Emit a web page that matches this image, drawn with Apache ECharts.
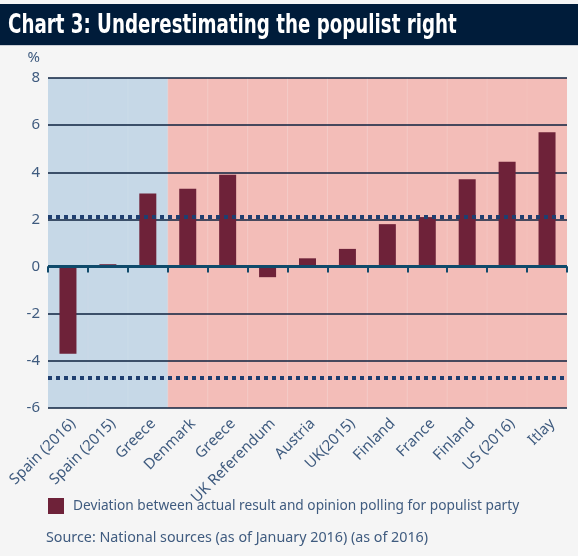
<!DOCTYPE html>
<html>
<head>
<meta charset="utf-8">
<script src="https://cdn.jsdelivr.net/npm/echarts@6/dist/echarts.min.js"></script>
<style>
  html, body { margin: 0; padding: 0; background: #f5f5f5; }
  #chart { width: 578px; height: 556px; }
</style>
</head>
<body>
<div id="chart"></div>
<script>
// 数据
var categories = ['Spain (2016)', 'Spain (2015)', 'Greece', 'Denmark', 'Greece', 'UK Referendum',
  'Austria', 'UK(2015)', 'Finland', 'France', 'Finland', 'US (2016)', 'Itlay'];
var deviation = [-3.7, 0.1, 3.1, 3.3, 3.9, -0.45, 0.35, 0.75, 1.8, 2.1, 3.7, 4.45, 5.7];
var shadeGroup = [0, 0, 0, 1, 1, 1, 1, 1, 1, 1, 1, 1, 1];   // 0 = blue panel, 1 = pink panel
var refLines = [2.1, -4.7];                                  // dotted reference lines
var yTicks = { min: -6, max: 8, step: 2 };

var shadeColors = ['#c6d8e7', '#f3bdb8'];
var textColor = '#3f5b7f';
var font = '"Noto Sans", "Open Sans", sans-serif';

var chart = echarts.init(document.getElementById('chart'));

// 背景色块（每个类别一根满高柱子）
var bgData = shadeGroup.map(function (g) {
  return { value: 1, itemStyle: { color: shadeColors[g], borderColor: shadeColors[g], borderWidth: 1 } };
});

var markData = [
  { yAxis: 0, lineStyle: { color: '#0f4a6b', width: 3, type: 'solid' } }
];
refLines.forEach(function (v) {
  markData.push({ yAxis: v, lineStyle: { color: '#1f3f70', width: 4, type: [4, 4] } });
});

var option = {
  backgroundColor: '#f5f5f5',
  animation: false,
  graphic: [
    { type: 'rect', shape: { x: 0, y: 4, width: 578, height: 41 }, style: { fill: '#001c3a' }, z: 0 },
    { type: 'rect', shape: { x: 0, y: 45, width: 578, height: 1 }, style: { fill: '#c9cdd4' }, z: 0 },
    {
      type: 'text', x: 8, y: 13, scaleX: 0.78, z: 1,
      style: {
        text: 'Chart 3: Underestimating the populist right',
        fill: '#ffffff', fontSize: 26, fontWeight: 'bold',
        fontFamily: '"DejaVu Sans Condensed", "DejaVu Sans", sans-serif',
        verticalAlign: 'top'
      }
    }
  ],
  title: {
    text: 'Source: National sources (as of January 2016) (as of 2016)',
    left: 41, top: 526,
    textStyle: { color: textColor, fontSize: 14.3, fontWeight: 'normal', fontFamily: font }
  },
  legend: {
    data: ['Deviation between actual result and opinion polling for populist party'],
    left: 43, top: 493,
    itemWidth: 16, itemHeight: 16,
    icon: 'rect',
    textStyle: { color: textColor, fontSize: 13.7, fontFamily: font, padding: [0, 0, 0, 4] }
  },
  grid: { left: 48, right: 11, top: 78, bottom: 148, containLabel: false },
  xAxis: [
    {
      type: 'category',
      data: categories,
      z: 1,
      axisLine: { lineStyle: { color: '#0d2a4a', width: 1.5 } },
      axisTick: { show: true, length: 6, lineStyle: { color: '#0f4a6b', width: 2 } },
      axisLabel: {
        rotate: 45, margin: 8, fontSize: 15, color: textColor, fontFamily: font, interval: 0,
        align: 'right', verticalAlign: 'top'
      }
    },
    { type: 'category', data: categories, show: false }
  ],
  yAxis: [
    {
      type: 'value',
      min: yTicks.min, max: yTicks.max, interval: yTicks.step,
      z: 1,
      name: '%',
      nameLocation: 'end',
      nameGap: 13,
      nameTextStyle: { color: textColor, fontSize: 15, fontFamily: font, align: 'right', padding: [0, 8, 0, 0] },
      axisLine: { show: false },
      axisTick: { show: false },
      axisLabel: { fontSize: 15, color: textColor, fontFamily: font, margin: 8 },
      splitLine: { lineStyle: { color: '#0d223f', width: 1.5 } }
    },
    { type: 'value', min: 0, max: 1, show: false }
  ],
  series: [
    {
      type: 'bar',
      name: 'background',
      xAxisIndex: 1, yAxisIndex: 1,
      data: bgData,
      barWidth: '100%',
      silent: true,
      z: 0
    },
    {
      type: 'bar',
      name: 'Deviation between actual result and opinion polling for populist party',
      data: deviation,
      barWidth: 17,
      itemStyle: { color: '#6e2239' },
      z: 2,
      markLine: {
        silent: true,
        symbol: 'none',
        label: { show: false },
        data: markData
      }
    }
  ]
};

chart.setOption(option);
</script>
</body>
</html>
